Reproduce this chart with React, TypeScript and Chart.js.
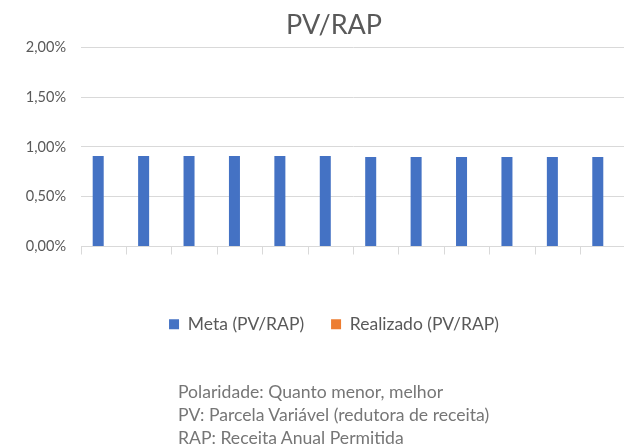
import React, { useEffect, useRef } from "react";
import { Chart, registerables } from "chart.js";

Chart.register(...registerables);

const categories: string[] = ["", "", "", "", "", "", "", "", "", "", "", ""];
const metaValues: number[] = [0.91, 0.91, 0.91, 0.91, 0.91, 0.91, 0.9, 0.9, 0.9, 0.9, 0.9, 0.9];
const realizadoValues: (number | null)[] = [null, null, null, null, null, null, null, null, null, null, null, null];
const seriesNames: string[] = ["Meta (PV/RAP)", "Realizado (PV/RAP)"];
const chartTitle = "PV/RAP";
const noteLines: string[] = [
  "Polaridade: Quanto menor, melhor",
  "PV: Parcela Variável (redutora de receita)",
  "RAP: Receita Anual Permitida",
];
const yMin = 0;
const yMax = 2;
const yStep = 0.5;

const FONT = "Lato, 'Open Sans', sans-serif";

export default function App() {
  const canvasRef = useRef<HTMLCanvasElement | null>(null);

  useEffect(() => {
    document.body.style.margin = "0";
    const canvas = canvasRef.current;
    if (!canvas) return;
    const chart = new Chart(canvas, {
      type: "bar",
      data: {
        labels: categories,
        datasets: [
          {
            label: seriesNames[0],
            data: metaValues,
            backgroundColor: "#4472C4",
            borderWidth: 0,
            barPercentage: 1,
            categoryPercentage: 0.485,
          },
          {
            label: seriesNames[1],
            data: realizadoValues,
            backgroundColor: "#ED7D31",
            borderWidth: 0,
            barPercentage: 1,
            categoryPercentage: 0.485,
          },
        ],
      },
      options: {
        responsive: false,
        animation: false,
        layout: { padding: { left: 0, right: 0, top: 0, bottom: 101 } },
        plugins: {
          title: {
            display: true,
            text: chartTitle,
            color: "#595959",
            font: { family: FONT, size: 27, weight: "normal" },
            padding: { top: 9, bottom: 6 },
          },
          legend: {
            position: "bottom",
            labels: {
              boxWidth: 10,
              boxHeight: 10,
              color: "#595959",
              font: { family: FONT, size: 17.5 },
              padding: 27,
            },
          },
          tooltip: { enabled: false },
        },
        scales: {
          x: {
            grid: {
              offset: true,
              drawOnChartArea: false,
              drawTicks: true,
              tickLength: 8,
              color: "#d9d9d9",
            },
            border: { display: true, color: "#d9d9d9" },
            ticks: { display: false },
            afterFit: (scale: any) => {
              scale.height = 42;
            },
          },
          y: {
            min: yMin,
            max: yMax,
            ticks: {
              stepSize: yStep,
              color: "#595959",
              font: { family: FONT, size: 14.5 },
              padding: 15,
              callback: (v: any) => Number(v).toFixed(2).replace(".", ",") + "%",
            },
            grid: { color: "#d9d9d9", drawTicks: false },
            border: { display: false },
            afterFit: (scale: any) => {
              scale.width = 81;
            },
          },
          spacer: {
            type: "linear",
            position: "right",
            display: true,
            grid: { display: false, drawTicks: false },
            border: { display: false },
            ticks: { display: false },
            afterFit: (scale: any) => {
              scale.width = 42;
            },
          },
        },
      },
    });
    return () => chart.destroy();
  }, []);

  return (
    <div style={{ position: "relative", width: 624, height: 444, overflow: "hidden", background: "#fff" }}>
      <canvas ref={canvasRef} width={668} height={444} style={{ display: "block", width: 668, height: 444 }} />
      <div
        style={{
          position: "absolute",
          left: 178,
          top: 379.5,
          fontFamily: FONT,
          fontSize: 17.6,
          lineHeight: "23px",
          color: "#767676",
          whiteSpace: "nowrap",
        }}
      >
        {noteLines.map((l, i) => (
          <div key={i}>{l}</div>
        ))}
      </div>
    </div>
  );
}
